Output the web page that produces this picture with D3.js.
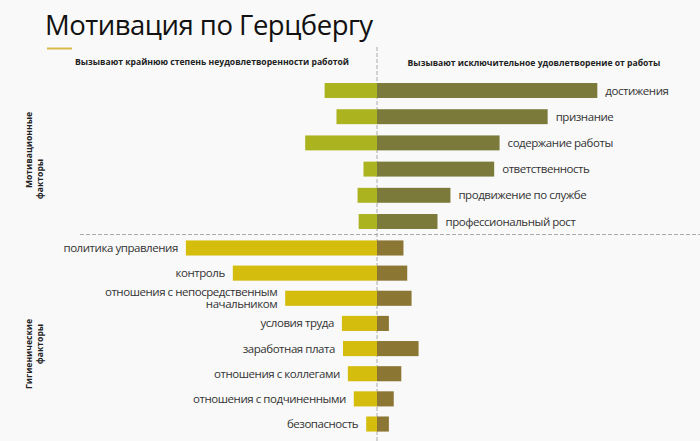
<!DOCTYPE html>
<html>
<head>
<meta charset="utf-8">
<script src="https://cdn.jsdelivr.net/npm/d3@7"></script>
<style>
  body { margin: 0; background: #f9f9f9; }
  svg { display: block; font-family: "Open Sans", sans-serif; }
</style>
</head>
<body>
<svg id="chart" width="700" height="441"></svg>
<script>
// мотивационные факторы
const motivCats = ['достижения', 'признание', 'содержание работы', 'ответственность',
  'продвижение по службе', 'профессиональный рост'];
const motivNeg = [9.7, 7.5, 13.3, 2.5, 3.6, 3.4];
const motivPos = [40.8, 31.6, 22.7, 21.7, 13.6, 11.2];

// гигиенические факторы
const hygCats = ['политика управления', 'контроль', 'отношения с непосредственным\nначальником',
  'условия труда', 'заработная плата', 'отношения с коллегами', 'отношения с подчиненными', 'безопасность'];
const hygNeg = [35.4, 26.7, 17.0, 6.5, 6.3, 5.4, 4.3, 2.0];
const hygPos = [4.9, 5.6, 6.4, 2.2, 7.7, 4.5, 3.1, 2.2];

const title = 'Мотивация по Герцбергу';
const headLeft = 'Вызывают крайнюю степень неудовлетворенности работой';
const headRight = 'Вызывают исключительное удовлетворение от работы';

const svg = d3.select('#chart');

const x = d3.scaleLinear().domain([-40, 60]).range([161, 701]);
const x0 = x(0);

const yMotiv = d3.scaleBand().domain(motivCats).range([77.4, 234.6])
  .paddingInner(0.43).paddingOuter(0.215);
const yHyg = d3.scaleBand().domain(hygCats).range([235.4, 436.6])
  .paddingInner(0.40).paddingOuter(0.20);

// title
svg.append('text')
  .attr('x', 45).attr('y', 35)
  .attr('font-size', 27.5)
  .attr('letter-spacing', -0.5)
  .attr('fill', '#111')
  .text(title);

svg.append('line')
  .attr('x1', 47).attr('x2', 72).attr('y1', 48.5).attr('y2', 48.5)
  .attr('stroke', '#d8b94a').attr('stroke-width', 2);

// headers
svg.append('text')
  .attr('x', 212).attr('y', 65)
  .attr('text-anchor', 'middle')
  .attr('font-size', 8.6).attr('font-weight', 'bold').attr('fill', '#222')
  .text(headLeft);
svg.append('text')
  .attr('x', 534).attr('y', 65.5)
  .attr('text-anchor', 'middle')
  .attr('font-size', 8.6).attr('font-weight', 'bold').attr('fill', '#222')
  .text(headRight);

// dashed guides
svg.append('line')
  .attr('x1', x0).attr('x2', x0).attr('y1', 47).attr('y2', 441)
  .attr('stroke', '#aaa').attr('stroke-dasharray', '4,2');
svg.append('line')
  .attr('x1', 80).attr('x2', 700).attr('y1', 234.5).attr('y2', 234.5)
  .attr('stroke', '#aaa').attr('stroke-dasharray', '4,2');

function drawGroup(cats, neg, pos, y, colNeg, colPos, labelSide) {
  const g = svg.append('g');
  const rows = cats.map((c, i) => ({c, neg: neg[i], pos: pos[i]}));

  g.selectAll('rect.neg').data(rows).join('rect')
    .attr('class', 'neg')
    .attr('x', d => x(-d.neg))
    .attr('y', d => y(d.c))
    .attr('width', d => x0 - x(-d.neg))
    .attr('height', y.bandwidth())
    .attr('fill', colNeg);

  g.selectAll('rect.pos').data(rows).join('rect')
    .attr('class', 'pos')
    .attr('x', x0)
    .attr('y', d => y(d.c))
    .attr('width', d => x(d.pos) - x0)
    .attr('height', y.bandwidth())
    .attr('fill', colPos);

  g.selectAll('text.lbl').data(rows).join('text')
    .attr('class', 'lbl')
    .attr('font-size', 11.5)
    .attr('letter-spacing', -0.45)
    .attr('fill', '#333')
    .attr('text-anchor', labelSide === 'right' ? 'start' : 'end')
    .attr('x', d => labelSide === 'right' ? x(d.pos) + 8 : x(-d.neg) - 8)
    .attr('y', d => y(d.c) + y.bandwidth() / 2)
    .each(function(d) {
      const lines = d.c.split('\n');
      const t = d3.select(this);
      const xx = t.attr('x');
      lines.forEach((ln, k) => {
        t.append('tspan')
          .attr('x', xx)
          .attr('dy', k === 0 ? (0.35 - (lines.length - 1) * 0.55) + 'em' : '1.08em')
          .text(ln);
      });
    });
}

drawGroup(motivCats, motivNeg, motivPos, yMotiv, '#abb31f', '#7b7a3b', 'right');
drawGroup(hygCats, hygNeg, hygPos, yHyg, '#d5bd0d', '#8b7634', 'left');

// group labels (vertical)
function sideLabel(l1, l2, c1, c2) {
  svg.append('text')
    .attr('transform', `translate(32,${c1}) rotate(-90)`)
    .attr('text-anchor', 'middle')
    .attr('font-size', 8.6).attr('font-weight', 'bold').attr('fill', '#222')
    .text(l1);
  svg.append('text')
    .attr('transform', `translate(43,${c2}) rotate(-90)`)
    .attr('text-anchor', 'middle')
    .attr('font-size', 8.6).attr('font-weight', 'bold').attr('fill', '#222')
    .text(l2);
}
sideLabel('Мотивационные', 'факторы', 150, 179);
sideLabel('Гигиенические', 'факторы', 354, 344);
</script>
</body>
</html>
